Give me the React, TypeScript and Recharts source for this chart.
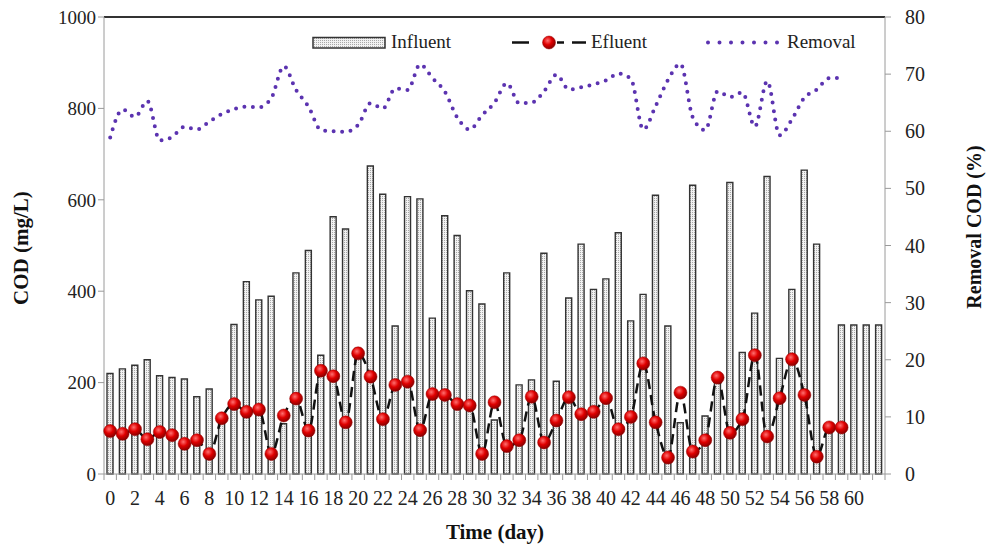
import React from "react";
import { Bar, ComposedChart, Line, ReferenceLine, XAxis, YAxis } from "recharts";

const FONT = "'Liberation Serif', 'Times New Roman', serif";

const days = [
  0, 1, 2, 3, 4, 5, 6, 7, 8, 9, 10, 11, 12, 13, 14, 15, 16, 17, 18, 19, 20, 21, 22, 23, 24, 25, 26, 27, 28, 29, 30,
  31, 32, 33, 34, 35, 36, 37, 38, 39, 40, 41, 42, 43, 44, 45, 46, 47, 48, 49, 50, 51, 52, 53, 54, 55, 56, 57, 58,
  59, 60, 61, 62,
];

const dayLabels = [
  "0", "2", "4", "6", "8", "10", "12", "14", "16", "18", "20", "22", "24", "26", "28", "30",
  "32", "34", "36", "38", "40", "42", "44", "46", "48", "50", "52", "54", "56", "58", "60",
];

// influent COD, mg/L
const influent = [
  220, 230, 238, 250, 215, 211, 208, 169, 186, 120, 327, 421, 381, 389, 110, 440, 489, 260, 563, 536, 275, 674,
  612, 324, 607, 602, 341, 565, 522, 401, 372, 118, 440, 195, 206, 483, 203, 385, 503, 404, 427, 528, 335, 393,
  610, 324, 112, 632, 127, 200, 638, 266, 352, 651, 253, 404, 665, 503, 95, 326, 326, 326, 326,
];

// effluent COD, mg/L
const effluent = [
  94, 88, 98, 76, 92, 85, 66, 74, 44, 122, 153, 136, 141, 44, 128, 165, 95, 226, 214, 113, 264, 213, 120, 195,
  202, 96, 175, 173, 153, 150, 44, 157, 61, 74, 169, 69, 117, 168, 131, 136, 166, 98, 125, 242, 113, 36, 178, 49,
  74, 211, 90, 120, 260, 82, 166, 251, 173, 38, 102, 102,
];

// COD removal, %
const removal = [
  58.9, 63.8, 62.5, 65.3, 58.4, 59.0, 60.8, 60.3, 61.7, 63.0, 63.9, 64.3, 64.2, 65.8, 71.4, 67.2, 64.3, 60.2,
  60.0, 59.9, 61.1, 64.9, 64.0, 67.5, 67.2, 71.7, 69.3, 66.9, 62.4, 60.3, 62.8, 65.0, 68.4, 64.9, 65.0, 67.0,
  69.9, 67.3, 67.7, 68.2, 68.9, 70.1, 69.2, 60.3, 64.4, 69.0, 71.8, 62.4, 60.2, 67.0, 66.0, 66.8, 60.8, 68.8,
  59.3, 62.1, 65.9, 67.3, 69.3, 69.3,
];

const codTicks = [0, 200, 400, 600, 800, 1000];
const removalTicks = [0, 10, 20, 30, 40, 50, 60, 70, 80];

const rows = days.map((d, i) => ({
  day: d,
  influent: influent[i],
  effluent: effluent[i] ?? null,
  removal: removal[i] ?? null,
}));

const PLOT_W = 781;
const BAND = PLOT_W / days.length;

function DayTick(props: any) {
  const { x, y, payload, index } = props;
  const half = BAND / 2;
  const label = String(payload.value);
  return (
    <g>
      <line x1={x - half} x2={x - half} y1={y} y2={y + 6} stroke="#9a9a9a" strokeWidth={1} />
      {index === days.length - 1 && (
        <line x1={x + half} x2={x + half} y1={y} y2={y + 6} stroke="#9a9a9a" strokeWidth={1} />
      )}
      {dayLabels.includes(label) && (
        <text x={x} y={y + 31} textAnchor="middle" fontSize={20} fill="#222" fontFamily={FONT}>
          {label}
        </text>
      )}
    </g>
  );
}

function Overlay() {
  return (
    <svg width={988} height={545} style={{ position: "absolute", left: 0, top: 0, pointerEvents: "none" }}>
      <defs>
        <pattern id="dotsL" width="2" height="2" patternUnits="userSpaceOnUse">
          <rect width="2" height="2" fill="#f2f2f2" />
          <rect width="1" height="1" fill="#a8a8a8" />
        </pattern>
        <radialGradient id="ballL" cx="40%" cy="35%" r="65%">
          <stop offset="0%" stopColor="#ff7070" />
          <stop offset="50%" stopColor="#e00000" />
          <stop offset="100%" stopColor="#8a0000" />
        </radialGradient>
      </defs>
      <g fontFamily={FONT} fill="#222" fontSize={19}>
        <rect x={313} y={37.5} width={72} height={10.5} fill="url(#dotsL)" stroke="#333" strokeWidth={1.5} />
        <text x={391} y={48}>Influent</text>
        <line x1={512} x2={529} y1={42.5} y2={42.5} stroke="#111" strokeWidth={2.5} />
        <line x1={557} x2={564} y1={42.5} y2={42.5} stroke="#111" strokeWidth={2.5} />
        <line x1={572} x2={586} y1={42.5} y2={42.5} stroke="#111" strokeWidth={2.5} />
        <circle cx={549} cy={42.5} r={6.5} fill="url(#ballL)" stroke="#900" strokeWidth={0.5} />
        <text x={591} y={48}>Efluent</text>
        <line
          x1={708}
          x2={778}
          y1={42.5}
          y2={42.5}
          stroke="#5b33b0"
          strokeWidth={4}
          strokeLinecap="round"
          strokeDasharray="0 11.5"
        />
        <text x={787} y={48}>Removal</text>
      </g>
      <g fontFamily={FONT} fill="#111" fontSize={21} fontWeight="bold" textAnchor="middle">
        <text x={28} y={248} transform="rotate(-90 28 248)">COD (mg/L)</text>
        <text x={981} y={227} fontSize={20} transform="rotate(-90 981 227)">Removal COD (%)</text>
        <text x={495} y={539}>Time (day)</text>
      </g>
    </svg>
  );
}

export default function App() {
  return (
    <div style={{ position: "absolute", left: 0, top: 0, width: 988, height: 545, background: "#fff" }}>
      <ComposedChart width={988} height={545} data={rows} margin={{ top: 17, right: 0, bottom: 0, left: 0 }}>
        <defs>
          <pattern id="dots" width="2" height="2" patternUnits="userSpaceOnUse">
            <rect width="2" height="2" fill="#f2f2f2" />
            <rect width="1" height="1" fill="#a8a8a8" />
          </pattern>
          <radialGradient id="ball" cx="40%" cy="35%" r="65%">
            <stop offset="0%" stopColor="#ff7070" />
            <stop offset="50%" stopColor="#e00000" />
            <stop offset="100%" stopColor="#8a0000" />
          </radialGradient>
        </defs>
        <XAxis
          dataKey="day"
          height={71}
          interval={0}
          tick={<DayTick />}
          tickLine={false}
          tickSize={0}
          tickMargin={0}
          axisLine={{ stroke: "#9a9a9a" }}
        />
        <YAxis
          yAxisId="left"
          width={104}
          domain={[0, 1000]}
          ticks={codTicks}
          interval={0}
          tick={{ fontSize: 19, fill: "#222", fontFamily: FONT }}
          tickLine={{ stroke: "#9a9a9a" }}
          axisLine={{ stroke: "#9a9a9a" }}
        />
        <YAxis
          yAxisId="right"
          orientation="right"
          width={103}
          domain={[0, 80]}
          ticks={removalTicks}
          interval={0}
          tickMargin={14}
          tick={{ fontSize: 20, fill: "#222", fontFamily: FONT }}
          tickLine={{ stroke: "#9a9a9a" }}
          axisLine={{ stroke: "#9a9a9a" }}
        />
        <ReferenceLine yAxisId="left" y={1000} stroke="#333" strokeWidth={2} />
        <Bar
          yAxisId="left"
          dataKey="influent"
          barSize={6}
          fill="url(#dots)"
          stroke="#333"
          strokeWidth={1.4}
          isAnimationActive={false}
        />
        <Line
          yAxisId="left"
          dataKey="effluent"
          type="monotone"
          stroke="#111"
          strokeWidth={2.5}
          strokeDasharray="10 6"
          dot={{ r: 6.5, fill: "url(#ball)", stroke: "#900", strokeWidth: 0.5, strokeDasharray: "" }}
          activeDot={false}
          isAnimationActive={false}
        />
        <Line
          yAxisId="right"
          dataKey="removal"
          type="monotone"
          stroke="#5b33b0"
          strokeWidth={4}
          strokeLinecap="round"
          strokeDasharray="0 8.5"
          dot={false}
          activeDot={false}
          isAnimationActive={false}
        />
      </ComposedChart>
      <Overlay />
    </div>
  );
}
